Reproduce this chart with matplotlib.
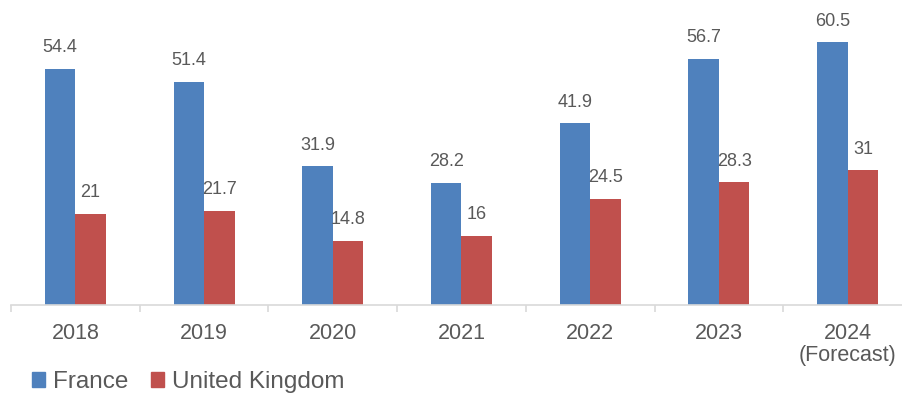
import matplotlib
matplotlib.use("Agg")
import matplotlib.pyplot as plt
from matplotlib.patches import Patch
import numpy as np

plt.rcParams['font.family'] = ['Liberation Sans', 'DejaVu Sans']

categories = ["2018", "2019", "2020", "2021", "2022", "2023", "2024\n(Forecast)"]
france = [54.4, 51.4, 31.9, 28.2, 41.9, 56.7, 60.5]
uk = [21, 21.7, 14.8, 16, 24.5, 28.3, 31]
france_labels = ["54.4", "51.4", "31.9", "28.2", "41.9", "56.7", "60.5"]
uk_labels = ["21", "21.7", "14.8", "16", "24.5", "28.3", "31"]

blue = "#4F81BD"
red = "#C0504D"
gray = "#595959"

W, H = 902, 394
fig = plt.figure(figsize=(W / 100, H / 100), dpi=100)
ax = fig.add_axes([11 / W, 89 / H, 901 / W, 304 / H])

x = np.arange(len(categories))
bw = 0.237
b1 = ax.bar(x - bw / 2, france, bw, color=blue)
b2 = ax.bar(x + bw / 2, uk, bw, color=red)

for bars, labels in ((b1, france_labels), (b2, uk_labels)):
    for rect, lab in zip(bars, labels):
        ax.annotate(lab, (rect.get_x() + rect.get_width() / 2, rect.get_height()),
                    xytext=(0, 9), textcoords="offset points",
                    ha="center", va="bottom", fontsize=13, color=gray)

ax.set_xlim(-0.5, len(categories) - 0.5)
ax.set_ylim(0, 70)
ax.set_yticks([])
for s in ("left", "top", "right"):
    ax.spines[s].set_visible(False)
ax.spines["bottom"].set_color("#D9D9D9")
ax.spines["bottom"].set_linewidth(1.2)

ax.set_xticks(x)
ax.set_xticklabels(categories, fontsize=15.5, color=gray, linespacing=1.08)
ax.tick_params(axis="x", which="major", length=0, pad=13)
ax.set_xticks(np.arange(-0.5, len(categories)), minor=True)
ax.tick_params(axis="x", which="minor", length=5, color="#D9D9D9", width=1.2)

handles = [Patch(color=blue, label="France"), Patch(color=red, label="United Kingdom")]
fig.legend(handles=handles, loc="lower left", bbox_to_anchor=(10 / W, -21 / H),
           ncol=2, frameon=False, fontsize=17.5, handlelength=0.55, handleheight=0.55,
           handletextpad=0.3, columnspacing=0.95, labelcolor=gray)

fig.savefig("out.png", dpi=100)
